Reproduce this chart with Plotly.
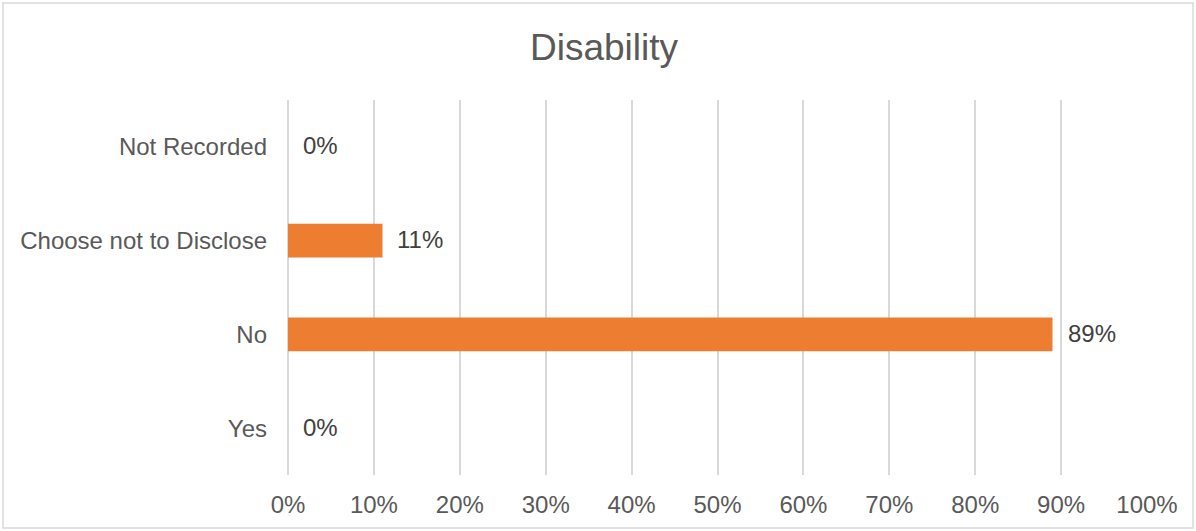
import plotly.graph_objects as go

categories = ["Yes", "No", "Choose not to Disclose", "Not Recorded"]
values = [0.0, 0.89, 0.11, 0.0]
labels = ["0%", "89%", "11%", "0%"]
tick_vals = [0, 0.1, 0.2, 0.3, 0.4, 0.5, 0.6, 0.7, 0.8, 0.9, 1.0]
tick_text = ["0%", "10%", "20%", "30%", "40%", "50%", "60%", "70%", "80%", "90%", "100%"]

W, H = 1196, 531
L, R, T, B = 288, 49, 100, 56
font_color = "#595959"
font_family = "Liberation Sans, Arial, sans-serif"

fig = go.Figure()
fig.add_trace(go.Bar(
    y=categories, x=values, orientation="h",
    marker=dict(color="#ED7D31", line=dict(width=0)),
    width=0.36, hoverinfo="skip",
))

for c, v, t in zip(categories, values, labels):
    fig.add_annotation(x=v, y=c, text=t, showarrow=False, xanchor="left",
                       xshift=13, yshift=1,
                       font=dict(size=24, color="#404040", family=font_family))

pw = W - L - R
ph = H - T - B
fig.add_shape(type="rect", xref="paper", yref="paper",
              x0=(3 - L) / pw, x1=(W - 3 - L) / pw,
              y0=-(H - 3 - T - ph) / ph, y1=1 + (T - 3) / ph,
              line=dict(color="#d9d9d9", width=1.5), layer="below")

fig.update_layout(
    width=W, height=H,
    margin=dict(l=L, r=R, t=T, b=B),
    paper_bgcolor="white", plot_bgcolor="white",
    title=dict(text="Disability", x=0.505, xanchor="center", y=1 - 47 / H, yanchor="middle",
               font=dict(size=37, color=font_color, family=font_family)),
    showlegend=False,
    font=dict(family=font_family, color=font_color),
    xaxis=dict(range=[0, 1.0], tickvals=tick_vals, ticktext=tick_text,
               showgrid=True, gridcolor="#d9d9d9", gridwidth=1.5,
               zeroline=True, zerolinecolor="#d9d9d9", zerolinewidth=1.5,
               showline=False, ticks="",
               tickfont=dict(size=24, color=font_color), ticklabelstandoff=13,
               fixedrange=True),
    yaxis=dict(categoryorder="array", categoryarray=categories,
               range=[-0.5, 3.5], showgrid=False, zeroline=False, showline=False,
               ticks="", tickfont=dict(size=24, color=font_color),
               ticklabelstandoff=20, fixedrange=True),
)

fig.write_html("out.html", post_script="document.body.style.margin='0';",
               config={"displayModeBar": False})
